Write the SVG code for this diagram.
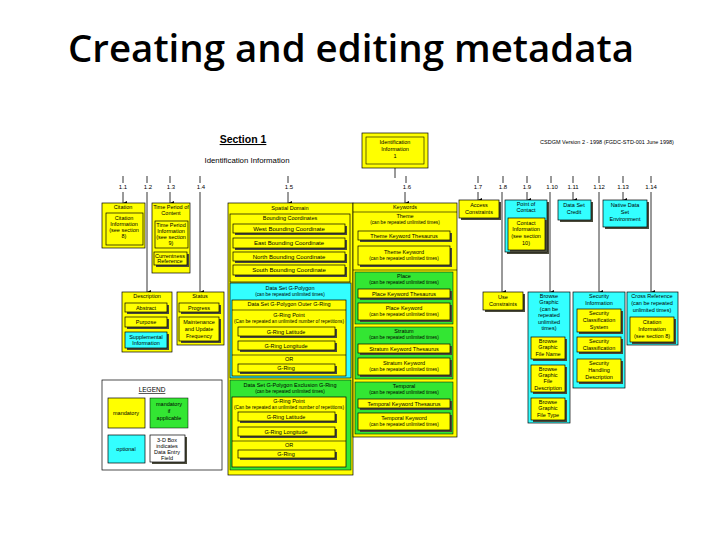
<svg xmlns="http://www.w3.org/2000/svg" width="720" height="540" viewBox="0 0 720 540">
<defs>
<style>
.t{font-family:"Liberation Sans",Arial,sans-serif;font-size:5.5px;text-anchor:middle;fill:#000}
.ts{font-size:4.7px}
.y{fill:#ffff00;stroke:#000;stroke-width:0.7}
.c{fill:#33ffff;stroke:#000;stroke-width:0.7}
.g{fill:#33e633;stroke:#000;stroke-width:0.5}
.w{fill:#fff;stroke:#000;stroke-width:0.7}
.n{fill:none;stroke:#000;stroke-width:0.6}
.sh{fill:#4a4a3a}
.ln{stroke:#000;stroke-width:0.8;fill:none}
.lb{font-family:"Liberation Sans",Arial,sans-serif;font-size:6px;text-anchor:middle;fill:#000}
</style>
<marker id="ah" viewBox="0 0 6 6" refX="3" refY="6" markerWidth="4" markerHeight="4" markerUnits="userSpaceOnUse" orient="auto-start-reverse">
<path d="M0,0 L6,0 L3,6 Z" fill="#000"/>
</marker>
</defs>
<rect width="720" height="540" fill="#fff"/>
<text x="68" y="62" font-family="'Open Sans','Liberation Sans',sans-serif" font-size="37" font-weight="600" textLength="566" lengthAdjust="spacingAndGlyphs" fill="#000">Creating and editing metadata</text>

<text x="243" y="143" font-family="'Liberation Sans',Arial,sans-serif" font-size="10.5" font-weight="bold" text-anchor="middle" text-decoration="underline">Section 1</text>
<text x="247" y="163" font-family="'Liberation Sans',Arial,sans-serif" font-size="7.8" text-anchor="middle">Identification Information</text>
<text x="607" y="144" class="t">CSDGM Version 2 - 1998 (FGDC-STD-001 June 1998)</text>

<g id="connectors">
<line class="ln" x1="395" y1="168" x2="395" y2="178"/>
<g class="ln">
<line x1="123" y1="176" x2="123" y2="183"/><line x1="147" y1="176" x2="147" y2="183"/><line x1="170" y1="176" x2="170" y2="183"/><line x1="200" y1="176" x2="200" y2="183"/><line x1="288" y1="176" x2="288" y2="183"/><line x1="406" y1="176" x2="406" y2="183"/><line x1="478" y1="176" x2="478" y2="183"/><line x1="503" y1="176" x2="503" y2="183"/><line x1="527" y1="176" x2="527" y2="183"/><line x1="551" y1="176" x2="551" y2="183"/><line x1="573" y1="176" x2="573" y2="183"/><line x1="599" y1="176" x2="599" y2="183"/><line x1="623" y1="176" x2="623" y2="183"/><line x1="651" y1="176" x2="651" y2="183"/>
</g>
<g class="ln" marker-end="url(#ah)">
<line x1="123" y1="192" x2="123" y2="203"/>
<line x1="147" y1="192" x2="147" y2="292"/>
<line x1="170" y1="192" x2="170" y2="203"/>
<line x1="200" y1="192" x2="200" y2="292"/>
<line x1="288" y1="192" x2="288" y2="203"/>
<line x1="405" y1="192" x2="405" y2="203"/>
<line x1="478" y1="192" x2="478" y2="200"/>
<line x1="502" y1="192" x2="502" y2="292"/>
<line x1="527" y1="192" x2="527" y2="200"/>
<line x1="550" y1="192" x2="550" y2="292"/>
<line x1="573" y1="192" x2="573" y2="200"/>
<line x1="599" y1="192" x2="599" y2="292"/>
<line x1="623" y1="192" x2="623" y2="200"/>
<line x1="651" y1="192" x2="651" y2="292"/>
</g>
<g class="lb">
<text x="123" y="189">1.1</text><text x="148" y="189">1.2</text><text x="171" y="189">1.3</text><text x="201" y="189">1.4</text><text x="289" y="189">1.5</text><text x="407" y="189">1.6</text><text x="478" y="189">1.7</text><text x="503" y="189">1.8</text><text x="527" y="189">1.9</text><text x="552" y="189">1.10</text><text x="573" y="189">1.11</text><text x="599" y="189">1.12</text><text x="623" y="189">1.13</text><text x="651" y="189">1.14</text>
</g>
</g>

<g id="identification">
<rect class="y" x="362" y="133" width="66" height="35"/>
<rect class="n" x="366" y="137" width="58" height="27"/>
<text class="t" x="395" y="144">Identification</text>
<text class="t" x="395" y="151">Information</text>
<text class="t" x="395" y="158">1</text>
</g>

<g id="citation">
<rect class="y" x="102" y="203" width="43" height="45"/>
<text class="t" x="123" y="209">Citation</text>
<rect class="y" x="106" y="213" width="37" height="32"/>
<text class="t" x="124" y="220">Citation</text>
<text class="t" x="124" y="226">Information</text>
<text class="t" x="124" y="232">(see section</text>
<text class="t" x="124" y="238">8)</text>
</g>

<g id="time-period">
<rect class="y" x="152" y="203" width="38" height="70"/>
<text class="t" x="171" y="209">Time Period of</text>
<text class="t" x="171" y="215">Content</text>
<rect class="y" x="155" y="221" width="33" height="27"/>
<text class="t" x="171" y="227">Time Period</text>
<text class="t" x="171" y="233">Information</text>
<text class="t" x="171" y="239">(see section</text>
<text class="t" x="171" y="245">9)</text>
<rect class="sh" x="156" y="254" width="33" height="13"/>
<rect class="y" x="154" y="252" width="33" height="13"/>
<text class="t" x="170" y="258">Currentness</text>
<text class="t" x="170" y="263">Reference</text>
</g>

<g id="spatial-domain">
<rect class="y" x="228" y="203" width="125" height="272"/>
<text class="t" x="290" y="210">Spatial Domain</text>
<rect class="y" x="230" y="214" width="120" height="68"/>
<text class="t" x="290" y="220">Bounding Coordinates</text>
<rect class="sh" x="235" y="226" width="112" height="9"/><rect class="y" x="233" y="224" width="112" height="9"/>
<text class="t" x="289" y="230.5" style="font-size:6px">West Bounding Coordinate</text>
<rect class="sh" x="235" y="240" width="112" height="10"/><rect class="y" x="233" y="238" width="112" height="10"/>
<text class="t" x="289" y="245" style="font-size:6px">East Bounding Coordinate</text>
<rect class="sh" x="235" y="254" width="112" height="9"/><rect class="y" x="233" y="252" width="112" height="9"/>
<text class="t" x="289" y="258.5" style="font-size:6px">North Bounding Coordinate</text>
<rect class="sh" x="235" y="267" width="112" height="10"/><rect class="y" x="233" y="265" width="112" height="10"/>
<text class="t" x="289" y="272" style="font-size:6px">South Bounding Coordinate</text>

<rect class="c" x="230" y="283" width="121" height="95"/>
<text class="t" x="290" y="290">Data Set G-Polygon</text>
<text class="t ts" x="290" y="296">(can be repeated unlimited times)</text>
<rect class="y" x="232" y="300" width="114" height="76"/>
<text class="t" x="289" y="306">Data Set G-Polygon Outer G-Ring</text>
<line class="n" x1="232" y1="310" x2="346" y2="310"/>
<text class="t" x="289" y="317">G-Ring Point</text>
<text class="t ts" x="289" y="323">(Can be repeated an unlimited number of repetitions)</text>
<rect class="sh" x="240" y="329" width="97" height="9"/><rect class="y" x="238" y="327" width="97" height="9"/>
<text class="t" x="286" y="333.5">G-Ring Latitude</text>
<rect class="sh" x="240" y="343" width="97" height="9"/><rect class="y" x="238" y="341" width="97" height="9"/>
<text class="t" x="286" y="347.5">G-Ring Longitude</text>
<line class="n" x1="232" y1="355" x2="346" y2="355"/>
<text class="t" x="289" y="361">OR</text>
<rect class="sh" x="240" y="366" width="97" height="8"/><rect class="y" x="238" y="364" width="97" height="8"/>
<text class="t" x="286" y="370">G-Ring</text>

<rect class="g" x="230" y="380" width="121" height="90"/>
<text class="t" x="290" y="387">Data Set G-Polygon Exclusion G-Ring</text>
<text class="t ts" x="290" y="393">(can be repeated unlimited times)</text>
<rect class="y" x="232" y="397" width="114" height="70"/>
<text class="t" x="289" y="403">G-Ring Point</text>
<text class="t ts" x="289" y="409">(Can be repeated an unlimited number of repetitions)</text>
<rect class="sh" x="240" y="414" width="97" height="9"/><rect class="y" x="238" y="412" width="97" height="9"/>
<text class="t" x="286" y="418.5">G-Ring Latitude</text>
<rect class="sh" x="240" y="429" width="97" height="9"/><rect class="y" x="238" y="427" width="97" height="9"/>
<text class="t" x="286" y="433.5">G-Ring Longitude</text>
<line class="n" x1="232" y1="441" x2="346" y2="441"/>
<text class="t" x="289" y="447">OR</text>
<rect class="sh" x="240" y="452" width="97" height="8"/><rect class="y" x="238" y="450" width="97" height="8"/>
<text class="t" x="286" y="456">G-Ring</text>
</g>

<g id="keywords">
<rect class="y" x="353" y="203" width="104" height="234"/>
<text class="t" x="405" y="209">Keywords</text>
<line class="n" x1="353" y1="212" x2="457" y2="212"/>
<text class="t" x="405" y="218">Theme</text>
<text class="t ts" x="405" y="224">(can be repeated unlimited times)</text>
<rect class="sh" x="360" y="233" width="92" height="9"/><rect class="y" x="358" y="231" width="92" height="9"/>
<text class="t" x="404" y="237.5">Theme Keyword Thesaurus</text>
<rect class="sh" x="360" y="248" width="92" height="19"/><rect class="y" x="358" y="246" width="92" height="19"/>
<text class="t" x="404" y="253.5">Theme Keyword</text>
<text class="t ts" x="404" y="260">(can be repeated unlimited times)</text>
<line class="n" x1="353" y1="270" x2="457" y2="270"/>

<rect class="g" x="355" y="272" width="98" height="52"/>
<text class="t" x="404" y="278">Place</text>
<text class="t ts" x="404" y="284">(can be repeated unlimited times)</text>
<rect class="sh" x="360" y="291" width="92" height="9"/><rect class="y" x="358" y="289" width="92" height="9"/>
<text class="t" x="404" y="295.5">Place Keyword Thesaurus</text>
<rect class="sh" x="360" y="305" width="92" height="17"/><rect class="y" x="358" y="303" width="92" height="17"/>
<text class="t" x="404" y="310">Place Keyword</text>
<text class="t ts" x="404" y="316">(can be repeated unlimited times)</text>

<rect class="g" x="355" y="327" width="98" height="52"/>
<text class="t" x="404" y="333">Stratum</text>
<text class="t ts" x="404" y="339">(can be repeated unlimited times)</text>
<rect class="sh" x="360" y="346" width="92" height="9"/><rect class="y" x="358" y="344" width="92" height="9"/>
<text class="t" x="404" y="350.5">Stratum Keyword Thesaurus</text>
<rect class="sh" x="360" y="360" width="92" height="17"/><rect class="y" x="358" y="358" width="92" height="17"/>
<text class="t" x="404" y="365">Stratum Keyword</text>
<text class="t ts" x="404" y="371">(can be repeated unlimited times)</text>

<rect class="g" x="355" y="382" width="98" height="52"/>
<text class="t" x="404" y="388">Temporal</text>
<text class="t ts" x="404" y="394">(can be repeated unlimited times)</text>
<rect class="sh" x="360" y="401" width="92" height="9"/><rect class="y" x="358" y="399" width="92" height="9"/>
<text class="t" x="404" y="405.5">Temporal Keyword Thesaurus</text>
<rect class="sh" x="360" y="415" width="92" height="17"/><rect class="y" x="358" y="413" width="92" height="17"/>
<text class="t" x="404" y="420">Temporal Keyword</text>
<text class="t ts" x="404" y="426">(can be repeated unlimited times)</text>
</g>

<g id="access-constraints">
<rect class="sh" x="461" y="202" width="40" height="18"/><rect class="y" x="459" y="200" width="40" height="18"/>
<text class="t" x="479" y="207">Access</text>
<text class="t" x="479" y="214">Constraints</text>
</g>

<g id="point-of-contact">
<rect class="sh" x="507" y="202" width="42" height="52"/><rect class="c" x="505" y="200" width="42" height="52"/>
<text class="t" x="526" y="206">Point of</text>
<text class="t" x="526" y="212">Contact</text>
<rect class="sh" x="510" y="220" width="37" height="32"/><rect class="y" x="508" y="218" width="37" height="32"/>
<text class="t" x="526" y="225">Contact</text>
<text class="t" x="526" y="231">Information</text>
<text class="t" x="526" y="238">(see section</text>
<text class="t" x="526" y="245">10)</text>
</g>

<g id="data-set-credit">
<rect class="sh" x="560" y="202" width="33" height="20"/><rect class="c" x="558" y="200" width="33" height="20"/>
<text class="t" x="574" y="207">Data Set</text>
<text class="t" x="574" y="214">Credit</text>
</g>

<g id="native-environment">
<rect class="sh" x="605" y="202" width="44" height="27"/><rect class="c" x="603" y="200" width="44" height="27"/>
<text class="t" x="625" y="207">Native Data</text>
<text class="t" x="625" y="214">Set</text>
<text class="t" x="625" y="221">Environment</text>
</g>

<g id="description">
<rect class="y" x="122" y="292" width="50" height="60"/>
<text class="t" x="147" y="298">Description</text>
<rect class="sh" x="127" y="305" width="42" height="9"/><rect class="y" x="125" y="303" width="42" height="9"/>
<text class="t" x="146" y="309.5">Abstract</text>
<rect class="sh" x="127" y="319" width="42" height="10"/><rect class="y" x="125" y="317" width="42" height="10"/>
<text class="t" x="146" y="324">Purpose</text>
<rect class="sh" x="127" y="334" width="42" height="16"/><rect class="c" x="125" y="332" width="42" height="16"/>
<text class="t" x="146" y="339">Supplemental</text>
<text class="t" x="146" y="345">Information</text>
</g>

<g id="status">
<rect class="y" x="177" y="292" width="47" height="53"/>
<text class="t" x="200" y="298">Status</text>
<rect class="sh" x="181" y="305" width="40" height="9"/><rect class="y" x="179" y="303" width="40" height="9"/>
<text class="t" x="199" y="309.5">Progress</text>
<rect class="sh" x="181" y="319" width="40" height="24"/><rect class="y" x="179" y="317" width="40" height="24"/>
<text class="t" x="199" y="324">Maintenance</text>
<text class="t" x="199" y="331">and Update</text>
<text class="t" x="199" y="338">Frequency</text>
</g>

<g id="use-constraints">
<rect class="sh" x="485" y="294" width="40" height="18"/><rect class="y" x="483" y="292" width="40" height="18"/>
<text class="t" x="503" y="299">Use</text>
<text class="t" x="503" y="306">Constraints</text>
</g>

<g id="browse-graphic">
<rect class="c" x="528" y="292" width="42" height="131"/>
<text class="t" x="549" y="298">Browse</text>
<text class="t" x="549" y="304">Graphic</text>
<text class="t" x="549" y="311">(can be</text>
<text class="t" x="549" y="317">repeated</text>
<text class="t" x="549" y="324">unlimited</text>
<text class="t" x="549" y="330">times)</text>
<rect class="sh" x="533" y="339" width="34" height="22"/><rect class="y" x="531" y="337" width="34" height="22"/>
<text class="t" x="548" y="343">Browse</text>
<text class="t" x="548" y="349">Graphic</text>
<text class="t" x="548" y="356">File Name</text>
<rect class="sh" x="533" y="367" width="34" height="27"/><rect class="y" x="531" y="365" width="34" height="27"/>
<text class="t" x="548" y="371">Browse</text>
<text class="t" x="548" y="377">Graphic</text>
<text class="t" x="548" y="383">File</text>
<text class="t" x="548" y="389.5">Description</text>
<rect class="sh" x="533" y="400" width="34" height="22"/><rect class="y" x="531" y="398" width="34" height="22"/>
<text class="t" x="548" y="404">Browse</text>
<text class="t" x="548" y="410">Graphic</text>
<text class="t" x="548" y="417">File Type</text>
</g>

<g id="security-information">
<rect class="c" x="573" y="292" width="52" height="96"/>
<text class="t" x="599" y="298">Security</text>
<text class="t" x="599" y="305">Information</text>
<rect class="sh" x="579" y="311" width="44" height="23"/><rect class="y" x="577" y="309" width="44" height="23"/>
<text class="t" x="599" y="315">Security</text>
<text class="t" x="599" y="322">Classification</text>
<text class="t" x="599" y="329">System</text>
<rect class="sh" x="579" y="339" width="44" height="15"/><rect class="y" x="577" y="337" width="44" height="15"/>
<text class="t" x="599" y="343">Security</text>
<text class="t" x="599" y="350">Classification</text>
<rect class="sh" x="579" y="361" width="44" height="23"/><rect class="y" x="577" y="359" width="44" height="23"/>
<text class="t" x="599" y="365">Security</text>
<text class="t" x="599" y="372">Handling</text>
<text class="t" x="599" y="379">Description</text>
</g>

<g id="cross-reference">
<rect class="c" x="627" y="292" width="51" height="53"/>
<text class="t" x="652" y="298">Cross Reference</text>
<text class="t" x="652" y="305">(can be repeated</text>
<text class="t" x="652" y="312">unlimited times)</text>
<rect class="sh" x="632" y="319" width="44" height="25"/><rect class="y" x="630" y="317" width="44" height="25"/>
<text class="t" x="652" y="324">Citation</text>
<text class="t" x="652" y="331">Information</text>
<text class="t" x="652" y="338">(see section 8)</text>
</g>

<g id="legend">
<rect class="w" x="102" y="380" width="120" height="90"/>
<text x="152" y="392" font-family="'Liberation Sans',Arial,sans-serif" font-size="6.5" text-anchor="middle" text-decoration="underline">LEGEND</text>
<rect class="y" x="108" y="398" width="37" height="30"/>
<text class="t" x="126" y="415">mandatory</text>
<rect class="g" x="150" y="398" width="38" height="30"/>
<text class="t" x="169" y="406">mandatory</text>
<text class="t" x="169" y="413">if</text>
<text class="t" x="169" y="420">applicable</text>
<rect class="c" x="108" y="435" width="37" height="28"/>
<text class="t" x="126" y="451">optional</text>
<rect class="sh" x="152" y="437" width="35" height="27"/><rect class="w" x="150" y="435" width="35" height="27"/>
<text class="t" x="167" y="442">3-D Box</text>
<text class="t" x="167" y="448">indicates</text>
<text class="t" x="167" y="454">Data Entry</text>
<text class="t" x="167" y="460">Field</text>
</g>
</svg>
